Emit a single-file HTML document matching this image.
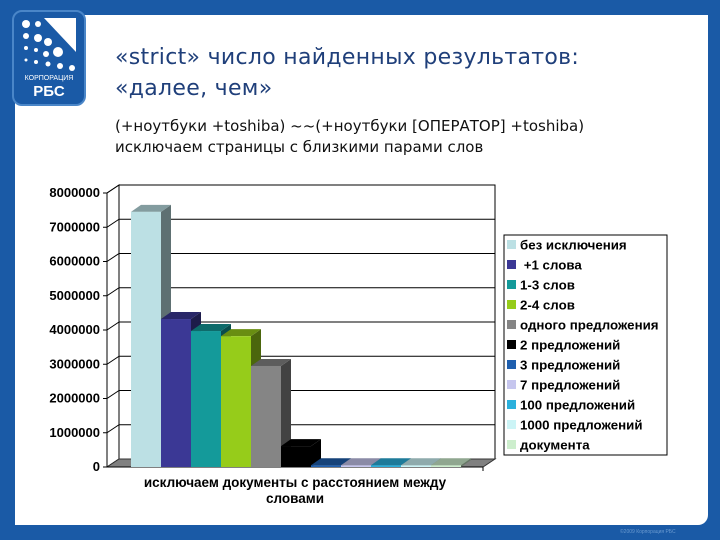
<!DOCTYPE html>
<html><head><meta charset="utf-8"><style>
body{margin:0;width:720px;height:540px;background:#1a5aa6;position:relative;overflow:hidden;font-family:"Liberation Sans",sans-serif}
#panel{position:absolute;left:15px;top:15px;width:693px;height:510px;background:#fff;border-radius:0 0 10px 0}
#logo{position:absolute;left:12px;top:10px;width:70px;height:92px;background:#1a5aa6;border-radius:10px;border:2px solid #4a86c8}
.t1{position:absolute;left:115px;top:42px;font:22px "DejaVu Sans",sans-serif;color:#1f3f7a;line-height:31px;letter-spacing:0.3px}
.t2{position:absolute;left:115px;top:116px;font:15px "DejaVu Sans",sans-serif;color:#111;line-height:21px}
</style></head><body>
<div id="panel"></div>
<div id="logo">
<svg width="70" height="92"><g fill="#fff">
<circle cx="12" cy="12" r="4"/><circle cx="24" cy="12" r="3"/><circle cx="12" cy="24" r="3"/><circle cx="24" cy="26" r="4"/><circle cx="34" cy="30" r="4"/><circle cx="44" cy="40" r="5"/><circle cx="12" cy="36" r="2"/><circle cx="22" cy="38" r="2"/><circle cx="32" cy="42" r="3"/><circle cx="12" cy="48" r="1.5"/><circle cx="22" cy="50" r="2"/><circle cx="34" cy="52" r="2.5"/><circle cx="46" cy="54" r="3"/><circle cx="58" cy="56" r="3"/>
<polygon points="30,6 62,6 62,40"/>
<text x="35" y="68" font-size="7" text-anchor="middle" font-family="Liberation Sans">КОРПОРАЦИЯ</text>
<text x="35" y="84" font-size="15" font-weight="bold" text-anchor="middle" font-family="Liberation Sans">РБС</text></g></svg></div>
<div class="t1">«strict» число найденных результатов:<br>«далее, чем»</div>
<div class="t2">(+ноутбуки +toshiba) ~~(+ноутбуки [ОПЕРАТОР] +toshiba)<br>исключаем страницы с близкими парами слов</div>
<svg id="chart" width="720" height="540" style="position:absolute;left:0;top:0"></svg>
<div style="position:absolute;left:620px;top:529px;font-size:5px;color:#6a9ad0">©2009 Корпорация РБС</div>
<script>
const categories=["без исключения","\u00a0+1 слова","1-3 слов","2-4 слов","одного предложения","2 предложений","3 предложений","7 предложений","100 предложений","1000 предложений","документа"];
const values=[7450000,4320000,3970000,3820000,2950000,610000,50000,50000,50000,50000,50000];
const colors=["#bce0e4","#3b3895","#149a9a","#96cc1a","#858585","#000000","#1f5fae","#c6c6ee","#2bb0dc","#ccf4f6","#cdeecd"];
const ticks=[0,1000000,2000000,3000000,4000000,5000000,6000000,7000000,8000000];
const svg=document.getElementById('chart');const NS="http://www.w3.org/2000/svg";
function mk(t,a,p){const e=document.createElementNS(NS,t);for(const k in a)e.setAttribute(k,a[k]);(p||svg).appendChild(e);return e;}
function shade(c,f){const n=parseInt(c.slice(1),16);let r=n>>16,g=(n>>8)&255,b=n&255;return `rgb(${r*f|0},${g*f|0},${b*f|0})`;}
const X0=107,X1=483,Y0=467,PX=34.25/1000000,DX=12,DY=-8;
const y=v=>Y0-v*PX;
mk('rect',{x:40,y:178,width:465,height:335,fill:'#fff'});
const wall=mk('polygon',{points:`${X0+DX},${y(8000000)+DY} ${X1+DX},${y(8000000)+DY} ${X1+DX},${Y0+DY} ${X0+DX},${Y0+DY}`,fill:'#fff',stroke:'#000','stroke-width':1});

mk('polygon',{points:`${X0},${y(8000000)} ${X0+DX},${y(8000000)+DY} ${X0+DX},${Y0+DY} ${X0},${Y0}`,fill:'#fff',stroke:'#000','stroke-width':1});
ticks.forEach(t=>{
 const gl=mk('line',{x1:X0+DX,x2:X1+DX,y1:y(t)+DY,y2:y(t)+DY,stroke:'#000','stroke-width':1});
 
 mk('line',{x1:X0,x2:X0+DX,y1:y(t),y2:y(t)+DY,stroke:'#000'});
 mk('line',{x1:X0-4,x2:X0,y1:y(t),y2:y(t),stroke:'#000'});
 const tx=mk('text',{x:X0-7,y:y(t)+4,'text-anchor':'end','font-size':13,'font-weight':'bold','font-family':'Liberation Sans'});
 tx.textContent=t;
});
mk('polygon',{points:`${X0},${Y0} ${X0+DX},${Y0+DY} ${X1+DX},${Y0+DY} ${X1},${Y0}`,fill:'#808080',stroke:'#333'});
mk('line',{x1:X0,x2:X0,y1:y(8000000),y2:Y0,stroke:'#000'});
mk('line',{x1:X0,x2:X1,y1:Y0,y2:Y0,stroke:'#000'});
mk('line',{x1:X1,x2:X1,y1:Y0,y2:Y0+4,stroke:'#000'});
const BW=30,BX=131,dx=10,dy=-7;
values.forEach((v,i)=>{
 const x=BX+i*BW,top=y(v);
 const g=mk('g',{});
 mk('polygon',{points:`${x+BW},${top} ${x+BW+dx},${top+dy} ${x+BW+dx},${Y0+dy} ${x+BW},${Y0}`,fill:shade(colors[i],0.5)},g);
 mk('polygon',{points:`${x},${top} ${x+dx},${top+dy} ${x+BW+dx},${top+dy} ${x+BW},${top}`,fill:shade(colors[i],0.7)},g);
 mk('rect',{x:x,y:top,width:BW,height:Y0-top,fill:colors[i]},g);
});
const xl=mk('text',{x:295,y:487,'text-anchor':'middle','font-size':13.5,'font-weight':'bold','font-family':'Liberation Sans'});
xl.textContent='исключаем документы с расстоянием между';
const xl2=mk('text',{x:295,y:503,'text-anchor':'middle','font-size':13.5,'font-weight':'bold','font-family':'Liberation Sans'});
xl2.textContent='словами';
const lg=mk('g',{});
mk('rect',{x:504,y:235,width:163,height:220,fill:'#fff',stroke:'#000'},lg);
categories.forEach((c,i)=>{
 const yy=245+i*20;
 const e=mk('g',{},lg);
 mk('rect',{x:507,y:yy-5,width:9,height:9,fill:colors[i]},e);
 const t=mk('text',{x:520,y:yy+4.5,'font-size':13.3,'font-weight':'bold','font-family':'Liberation Sans'},e);
 t.textContent=c;
});
</script>
</body></html>
